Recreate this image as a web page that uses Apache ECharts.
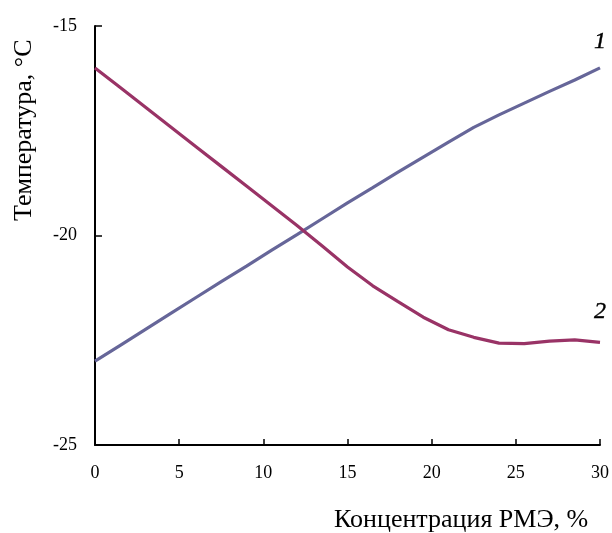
<!DOCTYPE html>
<html><head><meta charset="utf-8">
<script src="https://cdn.jsdelivr.net/npm/echarts@6/dist/echarts.min.js"></script>
<style>html,body{margin:0;padding:0;background:#fff}#c{width:612px;height:533px}</style>
</head><body><div id="c"></div>
<script>
const xValues = [0,1.5,3,4.5,6,7.5,9,10.5,12,13.5,15,16.5,18,19.5,21,22.5,24,25.5,27,28.5,30];
const series1 = [-23.0,-22.62,-22.24,-21.86,-21.48,-21.1,-20.73,-20.35,-19.98,-19.6,-19.22,-18.86,-18.49,-18.13,-17.77,-17.42,-17.12,-16.84,-16.56,-16.29,-16.0];
const series2 = [-16.0,-16.47,-16.94,-17.41,-17.88,-18.35,-18.82,-19.29,-19.76,-20.25,-20.75,-21.2,-21.58,-21.95,-22.25,-22.43,-22.57,-22.58,-22.52,-22.49,-22.55];
const seriesNames = ['1','2'];
const xTitle = 'Концентрация РМЭ, %';
const yTitle = 'Температура, °C';

const font = '"Liberation Serif", "DejaVu Serif", serif';
function line(vals, name, color) {
  return {
    type: 'line', name: name, symbol: 'none', smooth: false,
    lineStyle: {color: color, width: 3.2},
    data: xValues.map((x, i) => [x, vals[i]])
  };
}
function tag(vals, name, dist) {
  const n = xValues.length - 1;
  return {
    type: 'scatter', symbolSize: 0, itemStyle: {color: '#000', opacity: 1},
    silent: true, z: 5,
    label: {show: true, position: 'top', distance: dist, formatter: name,
      fontFamily: font, fontStyle: 'italic', fontSize: 24, color: '#000', opacity: 1,
      textBorderColor: '#000', textBorderWidth: 0.4},
    data: [[xValues[n], vals[n]]]
  };
}
const chart = echarts.init(document.getElementById('c'), null, {renderer: 'canvas'});
chart.setOption({
  animation: false,
  backgroundColor: '#fff',
  grid: {left: 95, right: 9, top: 26, bottom: 88, containLabel: false},
  xAxis: {
    type: 'value', min: 0, max: 30, interval: 5,
    axisLine: {lineStyle: {color: '#000', width: 2}},
    axisTick: {inside: true, length: 6, lineStyle: {color: '#000', width: 1.5}},
    axisLabel: {fontFamily: font, fontSize: 18, color: '#000', margin: 19},
    splitLine: {show: false}
  },
  yAxis: {
    type: 'value', min: -25, max: -15, interval: 5,
    axisLine: {show: true, lineStyle: {color: '#000', width: 2}},
    axisTick: {show: true, inside: true, length: 7, lineStyle: {color: '#000', width: 1.5}},
    axisLabel: {fontFamily: font, fontSize: 18, color: '#000', margin: 18},
    splitLine: {show: false}
  },
  graphic: [
    {type: 'text', left: 334, top: 507, style: {text: xTitle, font: '26px ' + font, fill: '#000'}},
    {type: 'text', rotation: Math.PI / 2, x: 11, y: 221, style: {text: yTitle, font: '26px ' + font, fill: '#000'}}
  ],
  series: [
    line(series1, seriesNames[0], '#666699'),
    line(series2, seriesNames[1], '#993366'),
    tag(series1, seriesNames[0], 14),
    tag(series2, seriesNames[1], 19)
  ]
});
</script></body></html>
